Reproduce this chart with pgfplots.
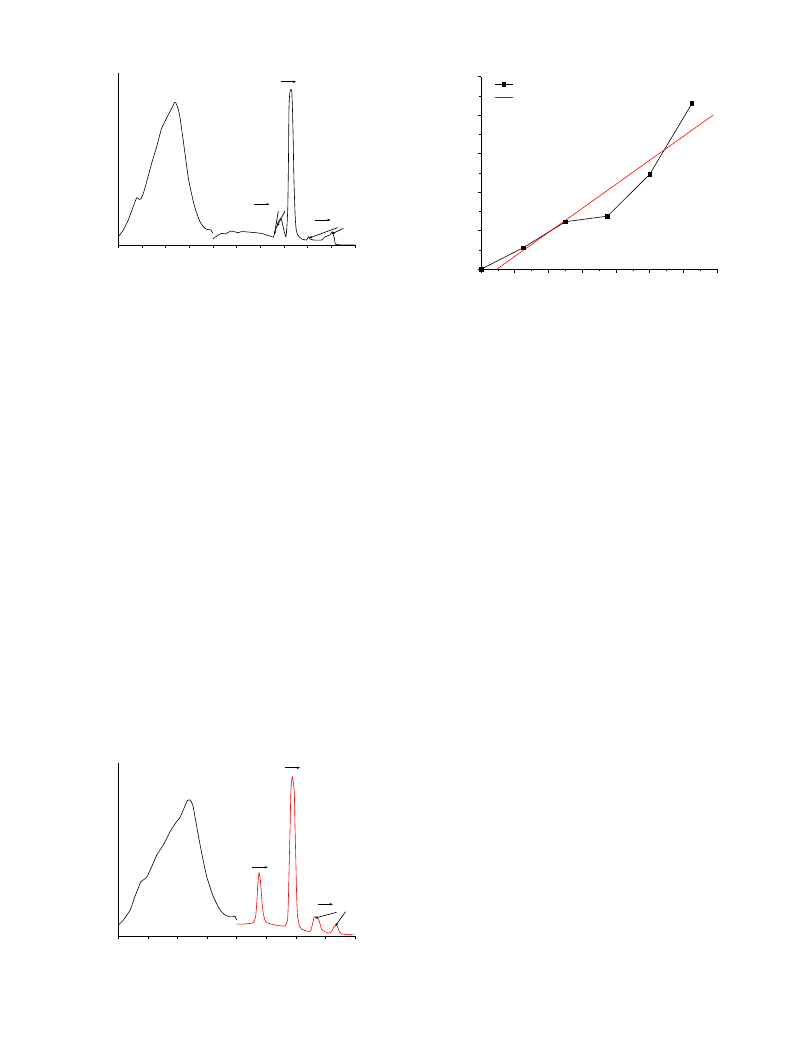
\documentclass[border=0pt]{standalone}
\usepackage{pgfplots}
\pgfplotsset{compat=1.18}
\usetikzlibrary{arrows.meta}
\pgfplotsset{
  spec/.style={
    scale only axis, axis lines*=left, axis line style={black, line width=0.6pt},
    tick align=outside, major tick length=3.5pt, tick style={black, line width=0.6pt},
    ytick=\empty, xticklabels={}, yticklabels={},
    clip=false
  },
}
\tikzset{arr/.style={-{Latex[length=3.5pt,width=2.4pt]}, black, line width=0.65pt}}
\begin{document}
\begin{tikzpicture}
\path[use as bounding box] (0pt,0pt) rectangle (793pt,1057pt);

% ---------------- top-left spectrum ----------------
\begin{axis}[spec, at={(118.3pt,812pt)}, anchor=south west, width=236.7pt, height=172pt,
  xmin=0, xmax=10, ymin=0, ymax=100, xtick={0,1,...,10}]
\addplot[black, line width=0.6pt, smooth, tension=0.3] coordinates {
(0,4.8)(0.21,8.7)(0.42,14.5)(0.63,22.3)(0.78,27.5)(0.88,26.5)(0.95,26.7)(1.06,30.1)(1.20,36.8)
(1.41,47.5)(1.62,57.2)(1.83,67.8)(2.04,73.7)(2.18,77.5)(2.30,80.5)(2.37,83.0)(2.43,82.6)(2.47,81.4)
(2.54,78.5)(2.61,73.7)(2.75,60.1)(2.96,38.8)(3.17,25.2)(3.30,19.0)(3.45,13.5)(3.60,10.5)(3.73,9.1)(3.92,8.7)(3.99,6.8)};
\addplot[black, line width=0.6pt, smooth, tension=0.3] coordinates {
(3.99,3.5)(4.22,5.8)(4.37,6.8)(4.51,6.4)(4.65,7.4)(4.79,8.1)(4.93,7.6)(5.07,7.2)(5.21,7.8)(5.35,7.7)(5.60,7.4)(5.91,7.0)
(6.10,6.6)(6.27,5.8)(6.45,5.0)(6.55,4.5)(6.62,7.7)(6.76,13.5)(6.87,15.5)(6.95,11.5)(7.01,7.7)(7.08,4.8)
(7.12,10.0)(7.16,21.3)(7.19,50.0)(7.21,79.5)(7.24,87.5)(7.27,90.1)(7.30,90.4)(7.33,89.1)(7.36,78.0)(7.39,60.1)
(7.42,38.0)(7.47,17.4)(7.51,9.5)(7.58,5.8)(7.75,3.5)(7.96,2.9)(8.03,4.8)(8.10,3.5)(8.24,2.9)(8.59,2.9)
(8.73,4.8)(8.94,5.8)(9.04,7.7)(9.13,3.9)(9.18,0.4)(9.58,0)(10,0)};
\draw[arr] (axis cs:6.87,94.9) -- (axis cs:7.53,94.9);
\draw[arr] (axis cs:5.75,23.7) -- (axis cs:6.41,23.7);
\draw[arr] (axis cs:8.31,14.5) -- (axis cs:8.99,14.5);
\draw[arr] (axis cs:6.76,19.8) -- (axis cs:6.59,5.8);
\draw[arr] (axis cs:7.04,19.8) -- (axis cs:6.70,10.5);
\draw[arr] (axis cs:9.27,10.1) -- (axis cs:8.03,3.9);
\draw[arr] (axis cs:9.51,9.7) -- (axis cs:8.99,6.2);
\end{axis}

% ---------------- top-right line plot ----------------
\begin{axis}[scale only axis, at={(481pt,787.7pt)}, anchor=south west, width=236.3pt, height=192.6pt,
  axis lines*=left, axis line style={black, line width=0.6pt},
  tick align=outside, tick style={black, line width=0.6pt},
  major tick length=3.5pt, minor tick length=2pt,
  xmin=0, xmax=14, ymin=0, ymax=100,
  xtick={0,2,...,14}, minor xtick={1,3,...,13},
  ytick={0,20,...,100}, minor ytick={10,30,...,90},
  xticklabels={}, yticklabels={},
  legend style={draw=none, fill=none, at={(0.059,0.982)}, anchor=north west,
    inner sep=0pt, row sep=5.7pt, nodes={inner sep=0pt}},
  legend cell align=left]
\addplot[black, line width=0.6pt, mark=square*, mark size=1.8pt, mark options={fill=black}] coordinates {
(0,0)(2.5,11.2)(5,24.7)(7.5,27.6)(10,49.4)(12.5,86.1)};
\addlegendentry{\rule[-5.85pt]{0pt}{11.7pt}}
\addplot[red, line width=0.6pt] coordinates {(0.93,0)(13.76,80.1)};
\addlegendentry{\rule[-5.85pt]{0pt}{11.7pt}}
\end{axis}

% ---------------- bottom-left spectrum ----------------
\begin{axis}[spec, at={(118.3pt,121pt)}, anchor=south west, width=236.7pt, height=173.3pt,
  xmin=0, xmax=8, ymin=0, ymax=100, xtick={0,1,...,8}]
\addplot[black, line width=0.6pt, smooth, tension=0.3] coordinates {
(0,6.3)(0.17,9.2)(0.40,15.0)(0.56,22.7)(0.76,31.3)(0.84,32.3)(0.96,33.9)(1.13,40.0)(1.30,46.7)
(1.52,52.5)(1.75,60.2)(1.97,66.0)(2.09,68.5)(2.22,73.7)(2.33,78.1)(2.40,78.6)(2.45,78.1)(2.53,74.6)
(2.67,61.2)(2.82,47.7)(2.99,34.2)(3.21,22.7)(3.44,15.0)(3.61,12.1)(3.77,11.1)(3.87,11.0)(3.94,11.5)(4.00,9.2)};
\addplot[red, line width=0.6pt, smooth, tension=0.3] coordinates {
(4.00,6.9)(4.28,6.9)(4.56,7.7)(4.64,11.1)(4.68,19.0)(4.71,28.4)(4.74,34.5)(4.76,36.5)(4.79,34.0)(4.82,28.4)
(4.86,19.0)(4.90,13.1)(4.95,9.5)(5.02,7.7)(5.30,6.3)(5.63,5.8)(5.72,9.2)(5.75,22.0)(5.78,43.9)(5.81,65.0)(5.83,82.3)
(5.86,90.0)(5.88,91.9)(5.91,89.5)(5.95,82.3)(5.97,65.0)(6.00,43.9)(6.03,22.0)(6.06,11.1)(6.12,6.0)(6.20,3.9)(6.48,2.5)
(6.57,7.3)(6.62,11.1)(6.70,10.8)(6.78,9.2)(6.84,5.5)(6.89,3.5)(7.10,1.6)(7.21,2.5)(7.29,5.4)(7.38,6.3)
(7.46,3.1)(7.55,1.2)(7.98,0.6)};
\draw[arr] (axis cs:4.53,39.6) -- (axis cs:5.07,39.6);
\draw[arr] (axis cs:5.63,97.1) -- (axis cs:6.16,97.1);
\draw[arr] (axis cs:6.74,18.3) -- (axis cs:7.27,18.3);
\draw[arr] (axis cs:7.38,13.7) -- (axis cs:6.62,10.2);
\draw[arr] (axis cs:7.68,14.0) -- (axis cs:7.32,5.4);
\end{axis}
\end{tikzpicture}
\end{document}
